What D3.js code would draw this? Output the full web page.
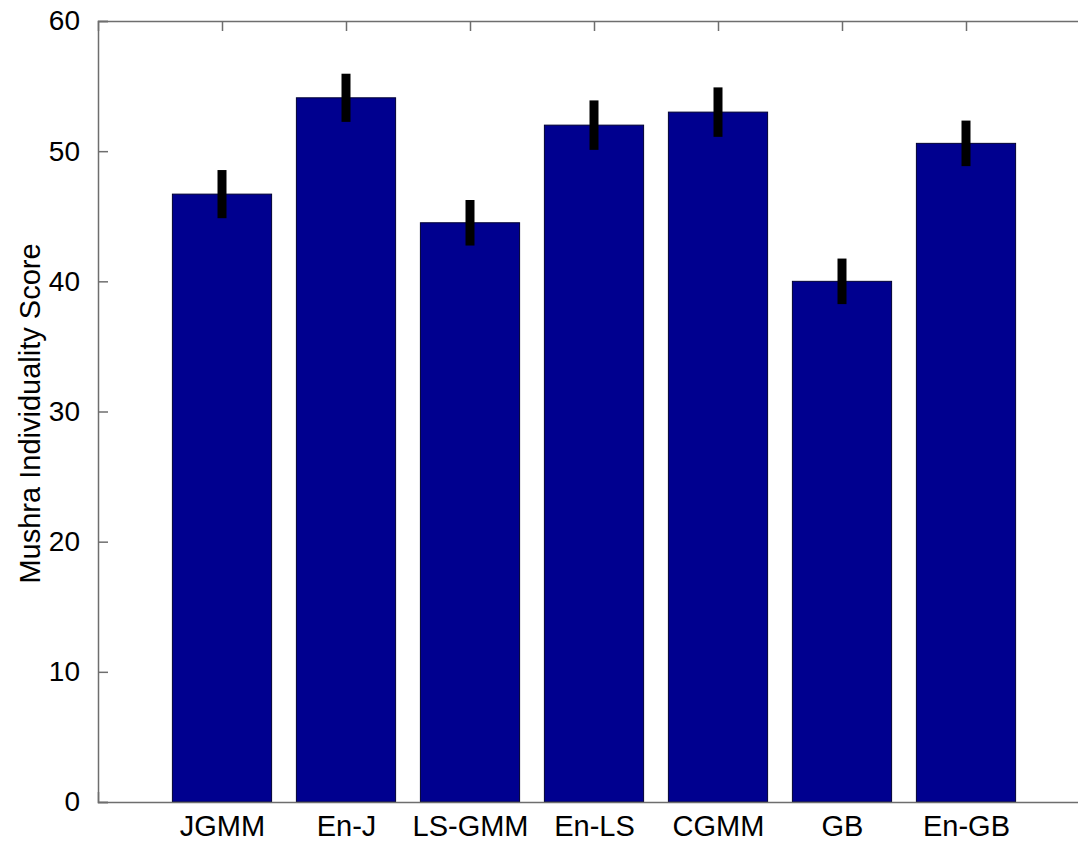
<!DOCTYPE html>
<html lang="en">
<head>
    <meta charset="UTF-8">
    <title>Mushra Individuality Score</title>
    <script src="https://d3js.org/d3.v7.min.js"></script>
    <style>
        body { margin: 0; background: #fff; }
        text { font-family: Arial, "Liberation Sans", sans-serif; fill: #000; }
    </style>
</head>
<body>
    <div id="chart"></div>
    <script>
        // data
        const methods = ['JGMM', 'En-J', 'LS-GMM', 'En-LS', 'CGMM', 'GB', 'En-GB'];
        const scores = [46.7, 54.1, 44.5, 52.0, 53.0, 40.0, 50.6];
        const errors = [1.85, 1.85, 1.75, 1.9, 1.9, 1.75, 1.75];
        const yTicks = [0, 10, 20, 30, 40, 50, 60];

        const width = 1078;
        const height = 842;
        const axisColor = '#6e6e6e';

        const svg = d3.select('#chart').append('svg')
            .attr('width', width)
            .attr('height', height);

        // matlab style bar axis: positions 1..7, limits 0..8
        const x = d3.scaleLinear().domain([0, methods.length + 1]).range([98, 1090]);
        const y = d3.scaleLinear().domain([0, 60]).range([802, 21]);
        const barW = 0.8;

        // bars
        svg.append('g')
            .selectAll('rect')
            .data(scores)
            .enter().append('rect')
            .attr('x', (d, i) => x(i + 1 - barW / 2))
            .attr('y', d => y(d))
            .attr('width', x(barW) - x(0))
            .attr('height', d => y(0) - y(d))
            .attr('fill', '#00008f')
            .attr('stroke', '#000033')
            .attr('stroke-width', 1);

        // error bars
        svg.append('g')
            .selectAll('line')
            .data(scores)
            .enter().append('line')
            .attr('x1', (d, i) => x(i + 1))
            .attr('x2', (d, i) => x(i + 1))
            .attr('y1', (d, i) => y(d - errors[i]))
            .attr('y2', (d, i) => y(d + errors[i]))
            .attr('stroke', '#000')
            .attr('stroke-width', 9);

        // axes box
        const xTicks = d3.range(1, methods.length + 1);
        const axBottom = svg.append('g')
            .attr('transform', 'translate(0,' + y(0) + ')')
            .call(d3.axisBottom(x).tickValues(xTicks).tickSize(-10)
                .tickFormat(d => methods[d - 1]));
        const axTop = svg.append('g')
            .attr('transform', 'translate(0,' + y(60) + ')')
            .call(d3.axisTop(x).tickValues(xTicks).tickSize(-10).tickFormat(''));
        const axLeft = svg.append('g')
            .attr('transform', 'translate(' + x(0) + ',0)')
            .call(d3.axisLeft(y).tickValues(yTicks).tickSize(-10).tickPadding(18));
        const axRight = svg.append('g')
            .attr('transform', 'translate(' + x(methods.length + 1) + ',0)')
            .call(d3.axisRight(y).tickValues(yTicks).tickSize(-10).tickFormat(''));

        [axBottom, axTop, axLeft, axRight].forEach(g => {
            g.select('.domain').attr('stroke', axisColor).attr('stroke-width', 1.5);
            g.selectAll('.tick line').attr('stroke', axisColor).attr('stroke-width', 1.5);
        });
        // bars sit above the bottom tick marks like in matlab
        axBottom.selectAll('.tick line').remove();

        axBottom.selectAll('text')
            .attr('y', 34)
            .attr('dy', null)
            .style('font-size', '29px')
            .attr('fill', '#000');
        axLeft.selectAll('text').style('font-size', '28px').attr('fill', '#000');

        svg.append('text')
            .attr('transform', 'translate(40,' + ((y(0) + y(60)) / 2 + 2) + ') rotate(-90)')
            .attr('text-anchor', 'middle')
            .style('font-size', '29px')
            .text('Mushra Individuality Score');
    </script>
</body>
</html>
